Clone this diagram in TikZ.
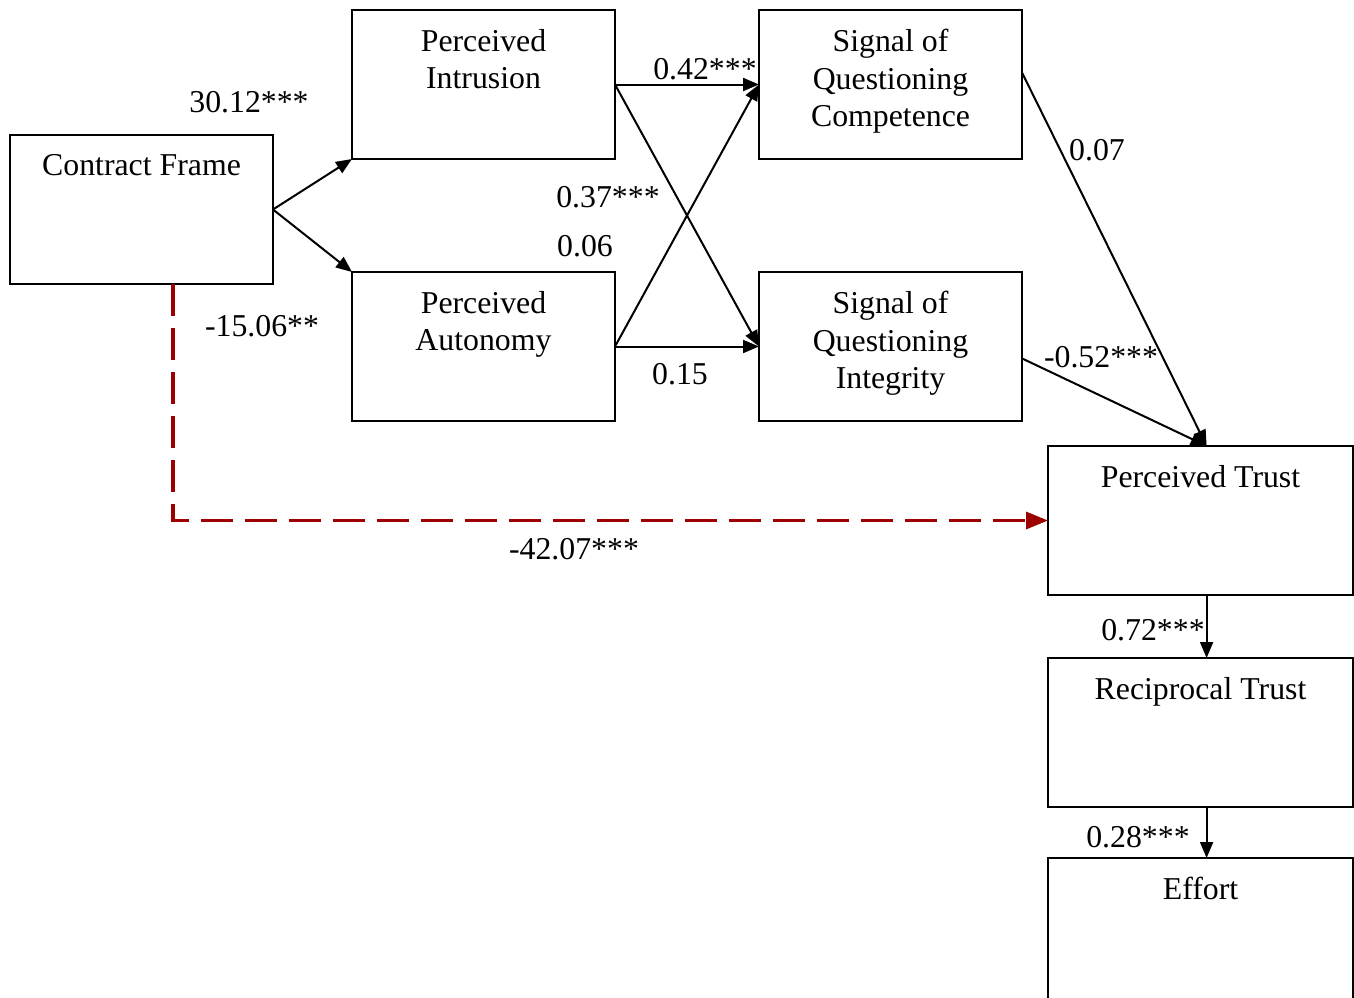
\documentclass[tikz,border=0pt]{standalone}
\usepackage{fontspec}
\setmainfont{Liberation Serif}
\usetikzlibrary{
  arrows.meta,
  positioning,
  calc,
}
\definecolor{pathred}{HTML}{9C0000}
\tikzset{
  >={Triangle[length=16pt,width=13pt]},
  font=\fontsize{31.8}{37.5}\selectfont,
  box/.style={draw, line width=2pt, anchor=north west, inner sep=0pt, outer sep=0pt,
    minimum height=149pt, minimum width=#1},
  box/.default=263pt,
  boxtext/.style={anchor=north, align=center, inner sep=0pt, yshift=-19pt},
  coef/.style={anchor=base, inner sep=0pt},
  link/.style={line width=2pt, ->},
  direct/.style={line width=3.2pt, pathred, dash pattern=on 32pt off 12pt,
    -{Triangle[length=22pt,width=17pt]}},
}

\begin{document}
\begin{tikzpicture}[x=1pt,y=-1pt]
  \clip (0,0) rectangle (1354,998);

  % LEFT and middle columns
  \node[box, label={[boxtext]north:Contract Frame}] (cf) at (10,135) {};
  \node[box, label={[boxtext]north:Perceived\\Intrusion}] (pi) at (352,10) {};
  \node[box, label={[boxtext]north:Perceived\\Autonomy}] (pa) at (352,272) {};
  \node[box, label={[boxtext]north:Signal of\\Questioning\\Competence}] (sqc) at (759,10) {};
  \node[box, label={[boxtext]north:Signal of\\Questioning\\Integrity}] (sqi) at (759,272) {};

  % RIGHT column
  \node[box=305pt, label={[boxtext]north:Perceived Trust}] (pt) at (1048,446) {};
  \node[box=305pt, label={[boxtext]north:Reciprocal Trust}] (rt) at (1048,658) {};
  \node[box=305pt, label={[boxtext]north:Effort}] (ef) at (1048,858) {};

  % paths
  \draw[link] (cf.east) -- (pi.south west);
  \draw[link] (cf.east) -- (pa.north west);
  \draw[link] (pi.east) -- (sqc.west);
  \draw[link] (pi.east) -- (sqi.west);
  \draw[link] (pa.east) -- (sqc.west);
  \draw[link] (pa.east) -- (sqi.west);

  \coordinate (sqcout) at ($(sqc.north east)!0.42!(sqc.south east)$);
  \coordinate (sqiout) at ($(sqi.north east)!0.58!(sqi.south east)$);
  \coordinate (ptin) at ($(pt.north west)!0.52!(pt.north east)$);
  \draw[link] (sqcout) -- (ptin);
  \draw[link] (sqiout) -- (ptin);

  \draw[link] ($(pt.south west)!0.52!(pt.south east)$) -- ($(rt.north west)!0.52!(rt.north east)$);
  \draw[link] ($(rt.south west)!0.52!(rt.south east)$) -- ($(ef.north west)!0.52!(ef.north east)$);

  % direct effect
  \coordinate (cfout) at ($(cf.south west)!0.62!(cf.south east)$);
  \draw[direct] (cfout) |- (pt.west);

  % coefficients
  \node[coef] (c1) at (249,112) {30.12***};
  \node[coef] (c2) at (262,336) {-15.06**};
  \node[coef] (c3) at (705,80) {0.42***};
  \node[coef] (c4) at (608,207) {0.37***};
  \node[coef] (c5) at (585,256) {0.06};
  \node[coef] (c6) at (680,384) {0.15};
  \node[coef] (c7) at (1097,160) {0.07};
  \node[coef] (c8) at (1101,367) {-0.52***};
  \node[coef] (c9) at (574,559) {-42.07***};
  \node[coef] (c10) at (1153,640) {0.72***};
  \node[coef] (c11) at (1138,847) {0.28***};
\end{tikzpicture}
\end{document}
